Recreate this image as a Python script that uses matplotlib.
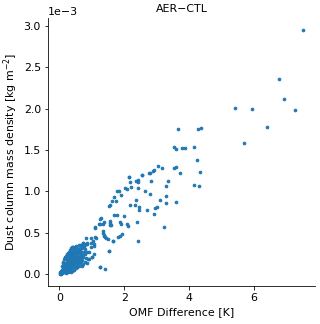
import matplotlib
matplotlib.use('Agg')
import matplotlib.pyplot as plt
import numpy as np

# OMF difference [K] and dust column mass density [1e-3 kg m-2]
omf_cluster = [0.02, 0.03, 0.04, 0.05, 0.05, 0.06, 0.07, 0.08, 0.08, 0.09, 0.10, 0.10, 0.11, 0.12,
               0.12, 0.13, 0.14, 0.14, 0.15, 0.16, 0.16, 0.17, 0.18, 0.18, 0.19, 0.20, 0.20, 0.21,
               0.22, 0.22, 0.23, 0.24, 0.24, 0.25, 0.26, 0.26, 0.27, 0.28, 0.28, 0.29, 0.30, 0.30,
               0.31, 0.32, 0.32, 0.33, 0.34, 0.34, 0.35, 0.35, 0.36, 0.37, 0.37, 0.38, 0.38, 0.39,
               0.40, 0.40, 0.41, 0.42, 0.42, 0.43, 0.44, 0.44, 0.45, 0.46, 0.46, 0.47, 0.48, 0.48,
               0.49, 0.50, 0.50, 0.51, 0.52, 0.52, 0.53, 0.54, 0.55, 0.56, 0.57, 0.58, 0.59, 0.60,
               0.61, 0.62, 0.63, 0.64, 0.65, 0.66, 0.67, 0.68, 0.70, 0.71, 0.72, 0.73, 0.75, 0.76,
               0.78, 0.79, 0.80, 0.82, 0.83, 0.85, 0.86, 0.88, 0.90, 0.96, 1.00,
               0.03, 0.06, 0.07, 0.09, 0.11, 0.13, 0.15, 0.17, 0.19, 0.21, 0.23, 0.25, 0.27, 0.29,
               0.31, 0.33, 0.36, 0.39, 0.41, 0.43, 0.45, 0.47, 0.49, 0.51, 0.53, 0.55, 0.57, 0.59,
               0.62, 0.65,
               0.08, 0.10, 0.12, 0.14, 0.16, 0.18, 0.20, 0.23, 0.26, 0.30, 0.33, 0.36, 0.40,
               0.20, 0.25, 0.30, 0.35, 0.40, 0.45, 0.50, 0.55, 0.60, 0.68, 0.72]
dust_cluster = [0.00, 0.01, 0.00, 0.02, 0.01, 0.03, 0.02, 0.04, 0.01, 0.03, 0.05, 0.02, 0.06, 0.03,
                0.07, 0.05, 0.02, 0.08, 0.06, 0.04, 0.10, 0.07, 0.03, 0.11, 0.08, 0.05, 0.13, 0.09,
                0.04, 0.14, 0.11, 0.07, 0.16, 0.12, 0.05, 0.18, 0.09, 0.14, 0.20, 0.07, 0.11, 0.17,
                0.22, 0.08, 0.14, 0.19, 0.24, 0.11, 0.06, 0.16, 0.21, 0.13, 0.26, 0.09, 0.18, 0.23,
                0.15, 0.28, 0.11, 0.20, 0.33, 0.25, 0.08, 0.17, 0.29, 0.13, 0.22, 0.31, 0.19, 0.10,
                0.26, 0.15, 0.34, 0.21, 0.28, 0.33, 0.12, 0.18, 0.24, 0.30, 0.15, 0.21, 0.27, 0.35,
                0.18, 0.24, 0.31, 0.13, 0.21, 0.35, 0.27, 0.17, 0.23, 0.31, 0.38, 0.20, 0.27, 0.34,
                0.15, 0.24, 0.30, 0.19, 0.36, 0.26, 0.36, 0.18, 0.27, 0.32, 0.21,
                0.02, 0.01, 0.04, 0.05, 0.04, 0.08, 0.03, 0.05, 0.12, 0.06, 0.08, 0.09, 0.15, 0.12,
                0.10, 0.13, 0.10, 0.14, 0.18, 0.12, 0.20, 0.16, 0.22, 0.25, 0.20, 0.14, 0.26, 0.19,
                0.29, 0.16,
                0.10, 0.13, 0.15, 0.18, 0.20, 0.19, 0.22, 0.24, 0.25, 0.27, 0.29, 0.31, 0.32,
                0.01, 0.02, 0.03, 0.02, 0.04, 0.05, 0.07, 0.08, 0.09, 0.10, 0.12]

omf_spread = [0.42, 0.52, 0.66, 0.72, 0.76, 0.82, 0.84, 0.86, 0.91, 0.96, 0.98, 1.00, 1.04, 1.06,
              1.07, 1.08, 1.09, 1.09, 1.10, 1.14, 1.21, 1.24, 1.24, 1.25, 1.25, 1.27, 1.33, 1.34,
              1.35, 1.36, 1.37, 1.37, 1.39, 1.41, 1.45, 1.50, 1.52, 1.53, 1.54, 1.55, 1.56, 1.57,
              1.57, 1.58, 1.61, 1.65, 1.66, 1.67, 1.69, 1.75, 1.78, 1.78, 1.82, 1.83, 1.87, 1.87,
              1.89, 1.91, 1.93, 2.00, 2.01, 2.07, 2.08, 2.10, 2.14, 2.15, 2.19, 2.19, 2.22, 2.32,
              2.36, 2.37, 2.40, 2.41, 2.41, 2.43, 2.43, 2.44, 2.44, 2.54, 2.55, 2.63, 2.71, 2.76,
              2.78, 2.79, 2.83, 2.90, 2.91, 2.92, 2.94, 3.00, 3.03, 3.11, 3.17, 3.22, 3.28, 3.28,
              3.29, 3.34, 3.53, 3.55, 3.59, 3.60, 3.61, 3.66, 3.71, 3.79, 3.88, 4.14, 4.14, 4.26,
              4.28, 4.31, 4.33, 4.37,
              5.43, 5.69, 5.94, 6.42, 6.79, 6.92, 7.26, 7.51]
dust_spread = [0.33, 0.33, 0.35, 0.38, 0.34, 0.43, 0.13, 0.38, 0.18, 0.43, 0.38, 0.21, 0.40, 0.36,
               0.24, 0.34, 0.57, 0.45, 0.56, 0.43, 0.60, 0.60, 0.08, 0.67, 0.08, 0.68, 0.61, 0.52,
               0.50, 0.47, 0.63, 0.46, 0.45, 0.06, 0.44, 0.42, 0.28, 0.28, 0.82, 0.62, 0.59, 0.84,
               0.64, 0.59, 0.88, 0.40, 0.40, 0.71, 0.93, 0.88, 1.01, 0.71, 0.45, 1.00, 0.63, 0.46,
               0.96, 0.61, 0.48, 0.70, 1.04, 1.03, 0.61, 0.58, 1.17, 1.17, 1.11, 0.84, 1.05, 0.84,
               1.12, 0.89, 0.63, 1.14, 0.40, 1.11, 1.04, 0.81, 0.78, 1.20, 1.20, 1.01, 0.77, 1.22,
               1.22, 0.97, 1.13, 1.25, 1.26, 0.73, 0.80, 0.81, 1.31, 0.90, 1.28, 0.57, 0.94, 0.86,
               1.07, 1.12, 1.54, 1.28, 1.51, 1.29, 0.87, 1.76, 1.22, 1.53, 1.53, 1.54, 1.08, 1.38,
               1.75, 1.07, 1.23, 1.77,
               2.01, 1.59, 2.00, 1.78, 2.36, 2.12, 1.99, 2.95]

omf = np.array(omf_cluster + omf_spread)
dust = np.array(dust_cluster + dust_spread) * 1e-3

plt.rcParams['font.size'] = 11

fig = plt.figure(figsize=(320 / 72, 324 / 72), dpi=72)
ax = fig.add_axes([0.15, 0.117, 0.834, 0.827])
ax.scatter(omf, dust, s=7, color='#1f77b4')

ax.set_title('AER\u2212CTL', fontsize=11)
ax.set_xlabel('OMF Difference [K]')
ax.set_ylabel('Dust column mass density [kg m$^{-2}$]')
ax.set_xticks([0, 2, 4, 6])
ax.ticklabel_format(axis='y', style='sci', scilimits=(0, 0))
ax.spines['top'].set_visible(False)
ax.spines['right'].set_visible(False)

fig.savefig('out.png', dpi=72)
